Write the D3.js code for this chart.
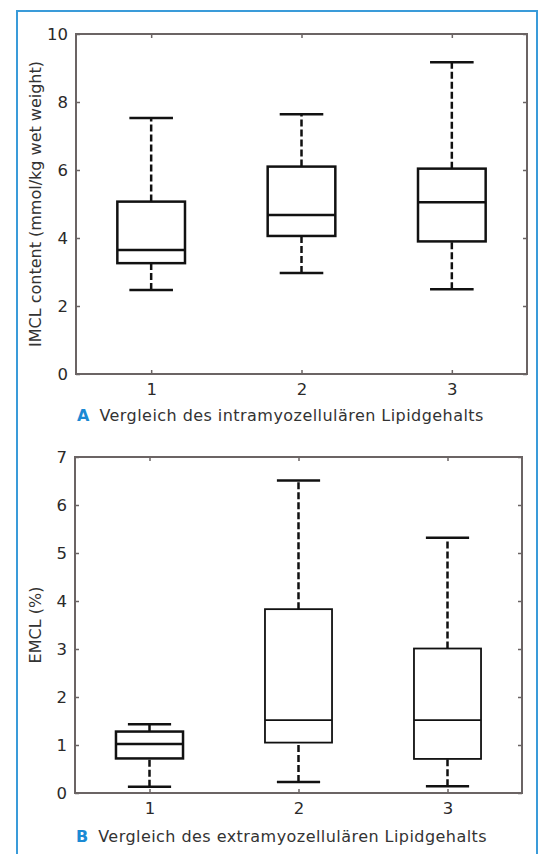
<!DOCTYPE html>
<html><head><meta charset="utf-8">
<script src="https://cdn.jsdelivr.net/npm/d3@7"></script>
<style>
html,body{margin:0;padding:0;background:#fff;}
svg{display:block;}
text{font-family:"DejaVu Sans",sans-serif;}
</style></head>
<body>
<svg id="c" width="539" height="854"></svg>
<script>
const categories = [1, 2, 3];
// IMCL (panel A): [lowerWhisker, q1, median, q3, upperWhisker]
const imclStats = [
  [2.47, 3.26, 3.65, 5.07, 7.53],
  [2.97, 4.06, 4.68, 6.10, 7.64],
  [2.49, 3.90, 5.05, 6.04, 9.17]
];
// EMCL (panel B)
const emclStats = [
  [0.13, 0.72, 1.02, 1.28, 1.43],
  [0.23, 1.05, 1.52, 3.83, 6.51],
  [0.14, 0.71, 1.52, 3.01, 5.32]
];
const imclTicks = [0, 2, 4, 6, 8, 10];
const emclTicks = [0, 1, 2, 3, 4, 5, 6, 7];

const FONT = '"DejaVu Sans",sans-serif';
const svg = d3.select("#c");
// blue frame
svg.append("rect").attr("x", 17).attr("y", 11).attr("width", 520).attr("height", 860)
  .attr("fill", "none").attr("stroke", "#3a9bd9").attr("stroke-width", 2);

const axisColor = "#6b6464";

function panel(cfg) {
  const x = d3.scaleLinear().domain([0.5, 3.5]).range([cfg.left, cfg.right]);
  const y = d3.scaleLinear().domain([0, cfg.ymax]).range([cfg.bottom, cfg.top]);
  const g = svg.append("g");
  // frame
  g.append("rect").attr("x", cfg.left).attr("y", cfg.top)
    .attr("width", cfg.right - cfg.left).attr("height", cfg.bottom - cfg.top)
    .attr("fill", "none").attr("stroke", axisColor).attr("stroke-width", 2);
  // axes with inward ticks
  const ax = (a) => a.tickSizeInner(-4).tickSizeOuter(0).tickPadding(8);
  const yl = g.append("g").attr("transform", `translate(${cfg.left},0)`)
    .call(ax(d3.axisLeft(y).tickValues(cfg.ticks).tickFormat(d3.format("d"))));
  const yr = g.append("g").attr("transform", `translate(${cfg.right},0)`)
    .call(ax(d3.axisRight(y).tickValues(cfg.ticks)).tickFormat(""));
  const xb = g.append("g").attr("transform", `translate(0,${cfg.bottom})`)
    .call(ax(d3.axisBottom(x).tickValues(categories).tickFormat(d3.format("d"))));
  const xt = g.append("g").attr("transform", `translate(0,${cfg.top})`)
    .call(ax(d3.axisTop(x).tickValues(categories)).tickFormat(""));
  [yl, yr, xb, xt].forEach(s => {
    s.attr("font-family", FONT).attr("font-size", 16.5);
    s.select(".domain").remove();
    s.selectAll(".tick line").attr("stroke", axisColor).attr("stroke-width", 1.5);
    s.selectAll(".tick text").attr("fill", "#2a2a2a");
  });
  xb.selectAll(".tick text").attr("dy", "0.78em");
  // y label
  g.append("text").attr("transform", `translate(${cfg.labelX},${(cfg.top + cfg.bottom) / 2}) rotate(-90)`)
    .attr("text-anchor", "middle").attr("fill", "#333").style("font-size", "16px").text(cfg.ylabel);
  // boxes
  const bw = 0.45 * (x(2) - x(1)), cw = 0.29 * (x(2) - x(1));
  cfg.stats.forEach((s, i) => {
    const cx = x(categories[i]);
    const bg = g.append("g");
    // whiskers
    bg.append("line").attr("x1", cx).attr("x2", cx).attr("y1", y(s[3])).attr("y2", y(s[4]))
      .attr("stroke", "#111").attr("stroke-width", 2.5).attr("stroke-dasharray", "7,3");
    bg.append("line").attr("x1", cx).attr("x2", cx).attr("y1", y(s[0])).attr("y2", y(s[1]))
      .attr("stroke", "#111").attr("stroke-width", 2.5).attr("stroke-dasharray", "7,3");
    [s[0], s[4]].forEach(v => bg.append("line").attr("x1", cx - cw / 2).attr("x2", cx + cw / 2)
      .attr("y1", y(v)).attr("y2", y(v)).attr("stroke", "#111").attr("stroke-width", 2.5));
    bg.append("rect").attr("x", cx - bw / 2).attr("y", y(s[3])).attr("width", bw)
      .attr("height", y(s[1]) - y(s[3])).attr("fill", "#fff").attr("stroke", "#111")
      .attr("stroke-width", cfg.boxStroke[i]);
    bg.append("line").attr("x1", cx - bw / 2).attr("x2", cx + bw / 2).attr("y1", y(s[2])).attr("y2", y(s[2]))
      .attr("stroke", "#111").attr("stroke-width", cfg.boxStroke[i]);
  });
  // caption
  const cap = g.append("text").attr("x", cfg.left + 1).attr("y", cfg.capY).style("font-size", "16px").attr("fill", "#333");
  cap.append("tspan").attr("fill", "#1a8ad4").attr("font-weight", "bold").text(cfg.capLetter);
  cap.append("tspan").attr("dx", 10).attr("letter-spacing", 0.45).text(cfg.caption);
}

panel({left: 76, right: 527, top: 34, bottom: 374, ymax: 10, ticks: imclTicks, stats: imclStats,
  ylabel: "IMCL content (mmol/kg wet weight)", labelX: 41, capY: 421, capLetter: "A",
  caption: "Vergleich des intramyozellulären Lipidgehalts", boxStroke: [2.5, 2.5, 2.5]});
panel({left: 75, right: 522, top: 457, bottom: 793, ymax: 7, ticks: emclTicks, stats: emclStats,
  ylabel: "EMCL (%)", labelX: 41, capY: 842, capLetter: "B",
  caption: "Vergleich des extramyozellulären Lipidgehalts", boxStroke: [2.5, 1.8, 1.8]});
</script>
</body></html>
